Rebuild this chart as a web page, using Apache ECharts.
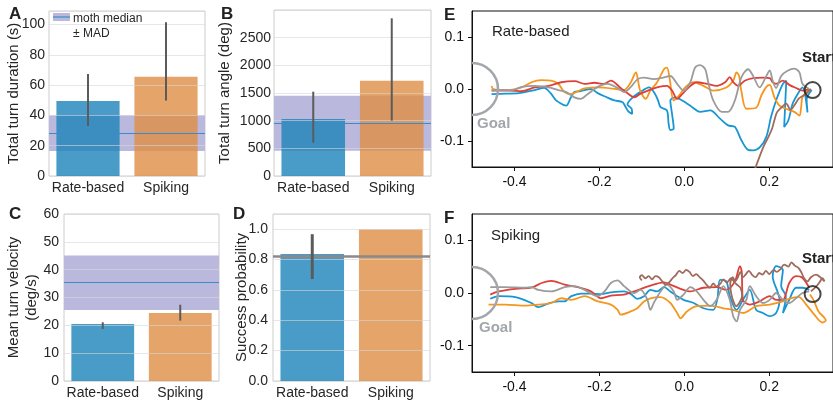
<!DOCTYPE html>
<html>
<head>
<meta charset="utf-8">
<script src="https://cdn.jsdelivr.net/npm/echarts@6/dist/echarts.min.js"></script>
<style>
  html, body { margin: 0; padding: 0; background: #fff; }
  #chart { width: 833px; height: 403px; }
</style>
</head>
<body>
<div id="chart"></div>
<script>
const FONT = '"Liberation Sans", Arial, sans-serif';

// bar panels
const categories = ['Rate-based', 'Spiking'];
const durationMean = [49.5, 65.5];
const durationLow = [33, 49.8];
const durationHigh = [67.3, 101.5];
const angleMean = [1030, 1720];
const angleLow = [602, 1000];
const angleHigh = [1524, 2850];
const velocityMean = [20.5, 24.4];
const velocityLow = [18.7, 21.7];
const velocityHigh = [21.1, 27.4];
const successMean = [0.837, 1.0];
const successLow = [0.672, null];
const successHigh = [0.967, null];
// moth reference: A, B, C, D
const mothMedian = [28.3, 953, 35.3, 0.819];
const mothMad = [11.8, 497, 9.75, 0];

// trajectories (x, y)
const xTicks = [-0.4, -0.2, 0.0, 0.2];
const yTicks = [-0.1, 0.0, 0.1];
const goalPoint = [-0.5, 0];
const startPoint = [0.302, -0.002];

const rateBlue = [[-0.454,-0.010],[-0.42,-0.009],[-0.39,-0.008],[-0.352,-0.002],[-0.33,0.002],[-0.315,-0.008],[-0.302,-0.022],[-0.286,-0.030],[-0.278,-0.032],[-0.267,-0.016],[-0.259,-0.006],[-0.244,-0.004],[-0.22,0.0],[-0.204,-0.008],[-0.185,-0.015],[-0.165,-0.022],[-0.146,-0.025],[-0.138,-0.035],[-0.132,-0.043],[-0.123,-0.048],[-0.124,-0.038],[-0.134,-0.030],[-0.124,-0.018],[-0.104,-0.006],[-0.083,0.003],[-0.07,-0.008],[-0.062,-0.022],[-0.056,-0.035],[-0.041,-0.041],[-0.037,-0.067],[-0.033,-0.079],[-0.025,-0.076],[-0.029,-0.048],[-0.033,-0.022],[-0.021,-0.016],[-0.005,-0.022],[0.014,-0.032],[0.037,-0.044],[0.061,-0.041],[0.084,-0.057],[0.103,-0.070],[0.119,-0.073],[0.134,-0.098],[0.15,-0.117],[0.162,-0.118],[0.178,-0.112],[0.193,-0.092],[0.204,-0.054],[0.216,-0.022],[0.232,0.010],[0.240,0.016],[0.238,-0.02],[0.235,-0.073],[0.245,-0.06],[0.255,-0.028],[0.268,-0.008],[0.278,0.003],[0.29,-0.045],[0.288,-0.02],[0.300,-0.002]];
const rateOrange = [[-0.454,0.006],[-0.45,0.0],[-0.414,-0.002],[-0.383,0.003],[-0.36,0.013],[-0.337,0.017],[-0.314,0.016],[-0.297,0.010],[-0.282,-0.006],[-0.267,-0.010],[-0.25,-0.004],[-0.235,0.001],[-0.204,0.003],[-0.16,0.0],[-0.142,-0.002],[-0.126,0.013],[-0.114,0.032],[-0.111,0.025],[-0.104,-0.003],[-0.091,-0.019],[-0.08,-0.003],[-0.064,0.013],[-0.048,0.038],[-0.041,0.041],[-0.035,0.022],[-0.025,-0.022],[-0.013,-0.013],[0.002,0.003],[0.022,0.013],[0.045,0.006],[0.068,-0.003],[0.099,0.003],[0.115,0.016],[0.123,0.032],[0.129,0.025],[0.134,-0.003],[0.146,-0.038],[0.169,-0.036],[0.181,-0.013],[0.193,0.004],[0.201,0.008],[0.212,-0.016],[0.224,-0.032],[0.239,-0.038],[0.259,-0.044],[0.271,-0.051],[0.275,-0.035],[0.278,-0.016],[0.294,0.0]];
const rateRed = [[-0.454,-0.003],[-0.414,-0.003],[-0.383,-0.004],[-0.352,0.003],[-0.32,0.006],[-0.29,0.013],[-0.258,0.015],[-0.235,0.010],[-0.212,0.012],[-0.19,0.010],[-0.173,0.016],[-0.15,0.002],[-0.126,-0.013],[-0.118,-0.016],[-0.103,-0.009],[-0.083,-0.002],[-0.06,0.004],[-0.041,0.006],[-0.029,-0.003],[-0.017,-0.019],[-0.005,-0.010],[0.010,0.003],[0.029,0.013],[0.053,0.010],[0.076,0.006],[0.096,0.013],[0.107,0.023],[0.115,0.013],[0.127,0.006],[0.142,0.016],[0.162,0.021],[0.185,0.022],[0.201,0.021],[0.208,0.013],[0.216,0.010],[0.232,0.016],[0.247,0.008],[0.263,0.002],[0.278,-0.003],[0.294,0.0]];
const rateGray = [[-0.454,-0.002],[-0.405,-0.002],[-0.383,0.004],[-0.352,0.006],[-0.32,0.003],[-0.297,-0.002],[-0.278,-0.006],[-0.259,-0.016],[-0.244,-0.019],[-0.228,-0.010],[-0.204,0.004],[-0.181,0.010],[-0.157,0.002],[-0.142,-0.006],[-0.126,0.004],[-0.11,0.019],[-0.095,0.022],[-0.072,0.019],[-0.05,0.022],[-0.033,0.025],[-0.017,0.010],[-0.002,-0.003],[0.014,0.013],[0.025,0.041],[0.037,0.046],[0.049,0.038],[0.057,0.010],[0.068,-0.022],[0.088,-0.044],[0.103,-0.044],[0.119,-0.022],[0.134,0.022],[0.15,0.038],[0.162,0.025],[0.177,0.003],[0.193,0.025],[0.201,0.036],[0.208,0.016],[0.216,0.002],[0.228,0.025],[0.243,0.035],[0.259,0.039],[0.271,0.032],[0.278,0.010],[0.294,0.0]];
const rateBrown = [[0.298,0.0],[0.285,-0.010],[0.27,-0.018],[0.26,-0.030],[0.25,-0.040],[0.24,-0.028],[0.228,-0.036],[0.218,-0.045],[0.212,-0.060],[0.207,-0.075],[0.198,-0.092],[0.188,-0.108],[0.178,-0.128],[0.168,-0.150],[0.16,-0.170]];

const spikeBlue = [[-0.457,-0.011],[-0.437,-0.006],[-0.398,-0.008],[-0.36,-0.019],[-0.344,-0.027],[-0.321,-0.020],[-0.297,-0.016],[-0.282,-0.016],[-0.266,-0.006],[-0.243,-0.001],[-0.22,-0.001],[-0.196,-0.002],[-0.173,0.001],[-0.142,0.003],[-0.126,-0.002],[-0.111,-0.011],[-0.095,-0.006],[-0.08,0.006],[-0.064,0.003],[-0.048,0.011],[-0.033,0.003],[-0.017,-0.006],[-0.002,-0.013],[0.022,-0.019],[0.045,-0.029],[0.068,-0.032],[0.078,-0.010],[0.084,0.025],[0.099,0.022],[0.107,-0.006],[0.123,-0.032],[0.138,-0.013],[0.154,0.006],[0.169,-0.032],[0.185,-0.038],[0.201,-0.044],[0.216,-0.038],[0.224,-0.013],[0.208,0.032],[0.216,0.051],[0.232,0.044],[0.228,0.013],[0.239,-0.006],[0.232,-0.038],[0.247,-0.013],[0.263,0.010],[0.278,0.010],[0.294,0.006]];
const spikeOrange = [[-0.461,-0.022],[-0.422,-0.022],[-0.375,-0.024],[-0.344,-0.022],[-0.313,-0.019],[-0.29,-0.010],[-0.266,-0.013],[-0.235,-0.006],[-0.204,-0.016],[-0.173,-0.022],[-0.157,-0.032],[-0.15,-0.041],[-0.126,-0.035],[-0.111,-0.029],[-0.095,-0.016],[-0.08,-0.010],[-0.056,-0.008],[-0.033,-0.019],[-0.017,-0.038],[-0.009,-0.048],[0.006,-0.035],[0.029,-0.025],[0.061,-0.024],[0.092,-0.029],[0.115,-0.032],[0.138,-0.038],[0.169,-0.025],[0.201,-0.022],[0.232,-0.016],[0.25,-0.010],[0.27,-0.008],[0.285,-0.020],[0.305,-0.040],[0.325,-0.056],[0.333,-0.052],[0.316,-0.035],[0.305,-0.015],[0.296,-0.003]];
const spikeRed = [[-0.457,-0.003],[-0.437,0.003],[-0.398,0.008],[-0.36,0.010],[-0.336,0.019],[-0.313,0.023],[-0.282,0.016],[-0.251,0.011],[-0.22,0.003],[-0.196,-0.010],[-0.173,-0.005],[-0.142,-0.003],[-0.111,0.005],[-0.08,0.014],[-0.048,0.020],[-0.033,0.016],[-0.009,0.008],[0.014,0.003],[0.045,0.010],[0.076,0.011],[0.099,0.006],[0.119,0.022],[0.131,0.051],[0.135,0.041],[0.138,-0.013],[0.154,-0.022],[0.177,-0.016],[0.201,-0.006],[0.216,-0.013],[0.232,-0.013],[0.247,0.019],[0.263,0.032],[0.278,0.029],[0.294,0.010]];
const spikeGray = [[-0.457,0.011],[-0.422,0.011],[-0.375,0.010],[-0.36,0.011],[-0.344,0.006],[-0.313,0.003],[-0.282,0.011],[-0.258,0.013],[-0.235,0.006],[-0.204,-0.006],[-0.188,0.003],[-0.173,0.019],[-0.157,0.024],[-0.142,0.013],[-0.118,0.0],[-0.103,0.006],[-0.087,-0.013],[-0.08,-0.032],[-0.072,-0.019],[-0.056,0.003],[-0.041,0.016],[-0.025,0.003],[-0.017,-0.013],[-0.002,-0.003],[0.014,0.011],[0.029,0.003],[0.045,-0.013],[0.061,-0.025],[0.076,-0.013],[0.092,0.013],[0.107,-0.013],[0.115,-0.044],[0.123,-0.054],[0.131,-0.032],[0.146,-0.013],[0.154,0.013],[0.169,-0.006],[0.185,-0.019],[0.201,-0.013],[0.216,0.0],[0.232,-0.013],[0.247,-0.019],[0.263,-0.010],[0.278,0.0],[0.294,0.003]];
const spikeBrown = [[0.298,0.003],[0.31,0.012],[0.318,0.020],[0.325,0.028],[0.33,0.022],[0.32,0.030],[0.31,0.035],[0.298,0.030],[0.29,0.022],[0.282,0.028],[0.275,0.040],[0.268,0.048],[0.26,0.052],[0.252,0.058],[0.245,0.050],[0.235,0.054],[0.226,0.045],[0.218,0.040],[0.21,0.044],[0.2,0.036],[0.192,0.042],[0.184,0.035],[0.176,0.038],[0.168,0.030],[0.16,0.034],[0.152,0.042],[0.145,0.036],[0.138,0.030],[0.132,0.040],[0.126,0.030],[0.12,0.022],[0.114,0.030],[0.108,0.018],[0.11,0.0],[0.115,-0.015],[0.122,-0.025],[0.13,-0.018],[0.136,-0.005],[0.132,0.010],[0.125,0.015],[0.118,0.020],[0.11,0.028],[0.1,0.020],[0.092,0.026],[0.085,0.018],[0.076,0.012],[0.068,0.018],[0.06,0.010],[0.052,0.016],[0.044,0.024],[0.036,0.030],[0.028,0.036],[0.02,0.032],[0.012,0.040],[0.004,0.044],[-0.004,0.038],[-0.012,0.042],[-0.02,0.034],[-0.028,0.028],[-0.036,0.020],[-0.044,0.016],[-0.052,0.022],[-0.06,0.030],[-0.068,0.032],[-0.076,0.026],[-0.084,0.032],[-0.092,0.028],[-0.1,0.034],[-0.105,0.030],[-0.1,0.024]];

const barColors = ['#1d83ba', '#df8d44'];
const trajColors = ['#1796d3', '#f5961f', '#dd4039', '#9b9b9b', '#9e6b5c'];
const bandColor = '#bab8dd';
const medianColor = '#3a8cc8';

const chart = echarts.init(document.getElementById('chart'));

let grids = [
    { left: 49, top: 11, width: 156, height: 165 },
    { left: 274, top: 10, width: 157, height: 166 },
    { left: 64, top: 214, width: 155, height: 167 },
    { left: 273, top: 214, width: 157, height: 167 },
    { left: 472, top: 11, width: 364, height: 156 },
    { left: 472, top: 214, width: 364, height: 158 }
].map((g, i) => Object.assign(g, {
    show: true,
    borderColor: i < 4 ? '#cccccc' : '#111111',
    borderWidth: 1
}));

let xAxes = [], yAxes = [], series = [];

function barPanel(k, means, lows, highs, yCfg) {
    xAxes.push({
        type: 'category', gridIndex: k, data: categories,
        axisLine: { show: false }, axisTick: { show: false },
        axisLabel: { interval: 0, fontSize: 14, color: '#262626', margin: 5, fontFamily: FONT }
    });
    yAxes.push({
        type: 'value', gridIndex: k, min: 0, max: yCfg.max, interval: yCfg.interval, z: 4,
        name: yCfg.name, nameLocation: 'middle', nameGap: yCfg.nameGap, nameMoveOverlap: false,
        nameTextStyle: { fontSize: 15, color: '#262626', fontFamily: FONT, lineHeight: 18 },
        axisLine: { show: false }, axisTick: { show: false },
        axisLabel: {
            fontSize: 14, color: '#262626', margin: yCfg.margin, fontFamily: FONT,
            showMaxLabel: yCfg.showMax, formatter: yCfg.fmt || (v => String(v))
        },
        splitLine: { lineStyle: { color: 'rgba(215,215,215,0.6)', width: 1 } }
    });
    let med = mothMedian[k], mad = mothMad[k];
    // moth band + median
    series.push({
        type: 'line', name: 'moth', xAxisIndex: k, yAxisIndex: k, data: [], z: yCfg.medZ || 1,
        markArea: mad > 0 ? {
            silent: true, itemStyle: { color: bandColor },
            data: [[{ yAxis: med - mad }, { yAxis: med + mad }]]
        } : undefined,
        markLine: {
            silent: true, symbol: 'none', label: { show: false },
            lineStyle: { color: yCfg.medColor || medianColor, width: yCfg.medWidth || 1.2, type: 'solid' },
            data: [{ yAxis: med }]
        }
    });
    series.push({
        type: 'bar', xAxisIndex: k, yAxisIndex: k, barWidth: '81%', z: 2,
        data: means.map((v, i) => ({ value: v, itemStyle: { color: barColors[i], opacity: 0.8 } }))
    });
    let errs = [];
    lows.forEach((lo, i) => { if (lo != null) errs.push([i, lo, highs[i]]); });
    series.push({
        type: 'custom', xAxisIndex: k, yAxisIndex: k, z: 6, data: errs,
        encode: { x: 0, y: [1, 2] },
        renderItem: (params, api) => {
            let a = api.coord([api.value(0), api.value(1)]);
            let b = api.coord([api.value(0), api.value(2)]);
            return { type: 'line', shape: { x1: a[0], y1: a[1], x2: b[0], y2: b[1] },
                style: { stroke: '#5b5b5b', lineWidth: yCfg.errWidth || 2 } };
        }
    });
}

barPanel(0, durationMean, durationLow, durationHigh,
    { max: 109, interval: 20, name: 'Total turn duration (s)', nameGap: 26, margin: 4, showMax: false });
barPanel(1, angleMean, angleLow, angleHigh,
    { max: 3000, interval: 500, name: 'Total turn angle (deg)', nameGap: 40, margin: 3, showMax: false });
barPanel(2, velocityMean, velocityLow, velocityHigh,
    { max: 60, interval: 10, name: 'Mean turn velocity\n(deg/s)', nameGap: 23, margin: 5, showMax: true });
// median line in D is drawn above the bars
barPanel(3, successMean, successLow, successHigh,
    { max: 1.1, interval: 0.2, name: 'Success probability', nameGap: 22, margin: 5, showMax: false,
      fmt: v => v.toFixed(1), medColor: '#8a8a8a', medWidth: 2.5, errWidth: 3, medZ: 5 });

function trajPanel(k, trajs) {
    xAxes.push({
        type: 'value', gridIndex: k, min: -0.5, max: 0.35,
        axisLine: { onZero: false, lineStyle: { color: '#111' } },
        axisTick: { show: true, customValues: xTicks, length: 4, lineStyle: { color: '#111' } },
        axisLabel: { customValues: xTicks, formatter: v => v.toFixed(1), fontSize: 14, color: '#111', margin: 8, fontFamily: FONT },
        splitLine: { show: false }
    });
    yAxes.push({
        type: 'value', gridIndex: k, min: -0.15, max: 0.15,
        axisLine: { onZero: false, lineStyle: { color: '#111' } },
        axisTick: { show: true, customValues: yTicks, length: 4, lineStyle: { color: '#111' } },
        axisLabel: { customValues: yTicks, formatter: v => v.toFixed(1), fontSize: 14, color: '#111', margin: 8, fontFamily: FONT },
        splitLine: { show: false }
    });
    trajs.forEach((d, i) => {
        series.push({
            type: 'line', xAxisIndex: k, yAxisIndex: k, data: d, showSymbol: false, smooth: 0.3,
            lineStyle: { color: trajColors[i], width: 1.8 }, z: 2, clip: true
        });
    });
    series.push({
        type: 'custom', xAxisIndex: k, yAxisIndex: k, data: [goalPoint], z: 3,
        renderItem: (params, api) => {
            let c = api.coord([api.value(0), api.value(1)]);
            return { type: 'arc', shape: { cx: c[0], cy: c[1], r: 26, startAngle: -Math.PI / 2, endAngle: Math.PI / 2, clockwise: true },
                style: { stroke: '#a3a6aa', lineWidth: 2.5, fill: null } };
        }
    });
    series.push({
        type: 'scatter', xAxisIndex: k, yAxisIndex: k, data: [startPoint], symbol: 'circle', symbolSize: 16, z: 6,
        itemStyle: { color: 'rgba(0,0,0,0)', borderColor: '#1a1a1a', borderWidth: 2 }
    });
}

trajPanel(4, [rateBlue, rateOrange, rateRed, rateGray, rateBrown]);
trajPanel(5, [spikeBlue, spikeOrange, spikeRed, spikeGray, spikeBrown]);

function label(text, x, y, size, color, bold) {
    return { type: 'text', x: x, y: y, z: 10,
        style: { text: text, fill: color, font: (bold ? 'bold ' : '') + size + 'px ' + FONT, verticalAlign: 'middle', align: 'left' } };
}

let graphics = [
    label('A', 9, 14.5, 17, '#222', true),
    label('B', 221, 14, 17, '#222', true),
    label('C', 9, 214, 17, '#222', true),
    label('D', 233, 214, 17, '#222', true),
    label('E', 444, 15, 17, '#222', true),
    label('F', 444, 218, 17, '#222', true),
    // legend in A
    { type: 'rect', shape: { x: 53, y: 13, width: 17, height: 8 }, style: { fill: bandColor }, z: 10 },
    { type: 'line', shape: { x1: 53, y1: 17, x2: 70, y2: 17 }, style: { stroke: medianColor, lineWidth: 1.2 }, z: 10 },
    label('moth median', 73, 18.5, 12, '#262626', false),
    label('± MAD', 73, 34, 12, '#262626', false),
    // trajectory annotations
    label('Rate-based', 492, 32, 15, '#222', false),
    label('Spiking', 491, 236, 15, '#222', false),
    label('Start', 802, 58, 15, '#222', true),
    label('Start', 802, 259, 15, '#222', true),
    label('Goal', 477, 124, 15, '#a3a6aa', true),
    label('Goal', 479, 328, 15, '#a3a6aa', true)
];

chart.setOption({
    animation: false,
    textStyle: { fontFamily: FONT },
    grid: grids,
    xAxis: xAxes,
    yAxis: yAxes,
    series: series,
    graphic: graphics
});
</script>
</body>
</html>
